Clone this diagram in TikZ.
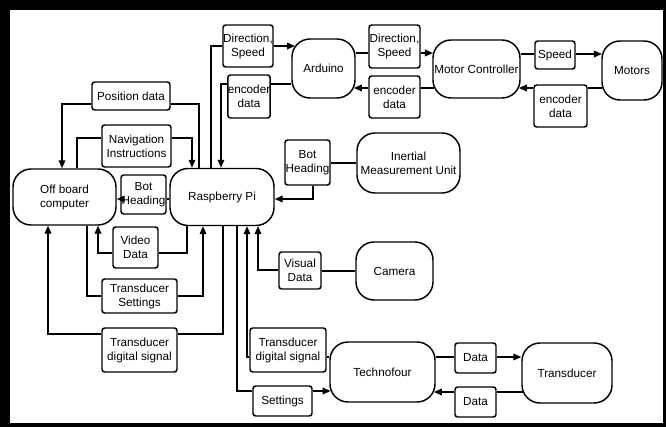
\documentclass[tikz,border=0pt]{standalone}
\usepackage{fontspec}
\setmainfont{Liberation Sans}
\usetikzlibrary{arrows.meta}
\begin{document}
\begin{tikzpicture}[x=0.75pt,y=-0.75pt,
  every node/.style={font=\fontsize{8.8}{10.5}\selectfont, align=center, inner sep=0pt},
  pill/.style n args={2}{draw, line width=1.1pt, rounded corners=13.5pt, minimum width=#1*0.75pt, minimum height=#2*0.75pt},
  lbl/.style n args={2}{draw, line width=1.1pt, rounded corners=2pt, minimum width=#1*0.75pt, minimum height=#2*0.75pt},
  conn/.style={line width=1pt},
  arr/.style={conn, -{Triangle[length=6pt,width=5pt]}}
]
% frame
\fill[black] (0,0) rectangle (666,427);
\fill[white] (10,10) rectangle (663,423);

% main blocks
\node[pill={103}{56}] (offb) at (64.5,197) {Off board\\computer};
\node[pill={104}{57}] (rpi) at (222,197) {Raspberry Pi};
\node[pill={63}{59}] (ard) at (323.5,68.5) {Arduino};
\node[pill={87}{58}] (mc) at (476.5,69) {Motor Controller};
\node[pill={60}{59}] (mot) at (632,70.5) {Motors};
\node[pill={103}{60}] (imu) at (408.5,163) {Inertial\\Measurement Unit};
\node[pill={77}{58}] (cam) at (394.5,271) {Camera};
\node[pill={105}{60}] (tf) at (382.5,372) {Technofour};
\node[pill={90}{60}] (tr) at (567,373) {Transducer};

% label boxes
\node[lbl={50}{42}] (ds1) at (248,46) {Direction,\\Speed};
\node[lbl={42}{43}] (en1) at (249,96.5) {encoder\\data};
\node[lbl={51}{43}] (ds2) at (394.5,46.5) {Direction,\\Speed};
\node[lbl={51}{42}] (en2) at (394.5,97) {encoder\\data};
\node[lbl={40}{28}] (spd) at (555,55) {Speed};
\node[lbl={53}{42}] (en3) at (560.5,106) {encoder\\data};
\node[lbl={78}{28}] (pos) at (131,96) {Position data};
\node[lbl={69}{42}] (nav) at (136.5,146) {Navigation\\Instructions};
\node[lbl={45}{39}] (bh1) at (143.5,194.5) {Bot\\Heading};
\node[lbl={45}{45}] (bh2) at (307.5,162.5) {Bot\\Heading};
\node[lbl={45}{41}] (vid) at (135.5,247.5) {Video\\Data};
\node[lbl={42}{37}] (vis) at (300,270.5) {Visual\\Data};
\node[lbl={75}{34}] (tset) at (139.5,296) {Transducer\\Settings};
\node[lbl={75}{44}] (tds1) at (139.5,350) {Transducer\\digital signal};
\node[lbl={76}{44}] (tds2) at (288,350) {Transducer\\digital signal};
\node[lbl={59}{30}] (set) at (282.5,401) {Settings};
\node[lbl={41}{30}] (d1) at (475.5,358) {Data};
\node[lbl={41}{30}] (d2) at (475.5,402) {Data};

% Raspberry Pi -> Arduino
\draw[conn] (211,0 |- rpi.north) |- (ds1.west);
\draw[arr, shorten >=-2.8pt] (ds1.east) -- (ds1.east -| ard.west);
% Arduino -> Raspberry Pi
\draw[conn] (ard.west |- 0,84) -- (en1.east |- 0,84);
\draw[arr] (en1.west |- 0,84) -| (221,0 |- rpi.north);
% Arduino -> Motor Controller
\draw[conn] (ard.east |- 0,53) -- (ds2.west |- 0,53);
\draw[arr, shorten >=-0.5pt] (ds2.east |- 0,53) -- (mc.west |- 0,53);
% Motor Controller -> Arduino
\draw[conn, shorten <=-1.4pt] (mc.west |- 0,88) -- (en2.east |- 0,88);
\draw[arr, shorten >=-1.4pt] (en2.west |- 0,88) -- (ard.east |- 0,88);
% Motor Controller -> Motors
\draw[conn] (mc.east |- 0,54) -- (spd.west |- 0,54);
\draw[arr, shorten >=-0.5pt] (spd.east |- 0,54) -- (mot.west |- 0,54);
% Motors -> Motor Controller
\draw[conn, shorten <=-0.7pt] (mot.west |- 0,88) -- (en3.east |- 0,88);
\draw[arr, shorten >=-1.4pt] (en3.west |- 0,88) -- (mc.east |- 0,88);
% IMU -> Raspberry Pi
\draw[conn] (imu.west) -- (bh2.east |- imu.west);
\draw[arr] (313,0 |- bh2.south) |- (rpi.east |- 0,199);
% Raspberry Pi -> Off board (position)
\draw[conn] (199,0 |- rpi.north) |- (pos.east |- 0,104);
\draw[arr] (pos.west |- 0,104) -| (62,0 |- offb.north);
% Off board -> Raspberry Pi (navigation)
\draw[conn] (77,0 |- offb.north) |- (nav.west |- 0,138);
\draw[arr] (nav.east |- 0,138) -| (192,0 |- rpi.north);
% Raspberry Pi -> Off board (bot heading)
\draw[conn] (rpi.west |- 0,199) -- (bh1.east |- 0,199);
\draw[arr] (bh1.west |- 0,199) -- (offb.east |- 0,199);
% Raspberry Pi -> Off board (video)
\draw[conn] (187,0 |- rpi.south) |- (vid.east |- 0,253);
\draw[arr] (vid.west |- 0,253) -| (98,0 |- offb.south);
% Off board -> Raspberry Pi (transducer settings)
\draw[conn] (87,0 |- offb.south) |- (tset.west);
\draw[arr] (tset.east) -| (203,0 |- rpi.south);
% Raspberry Pi -> Off board (transducer digital signal)
\draw[conn] (223,0 |- rpi.south) |- (tds1.east |- 0,334);
\draw[arr] (tds1.west |- 0,334) -| (48,0 |- offb.south);
% Technofour -> Raspberry Pi
\draw[conn] (tf.west |- 0,357) -- (tds2.east |- 0,357);
\draw[arr] (tds2.west |- 0,357) -| (247,0 |- rpi.south);
% Raspberry Pi -> Technofour
\draw[conn] (237,0 |- rpi.south) |- (set.west |- 0,391);
\draw[arr, shorten >=-1pt] (set.east |- 0,391) -- (tf.west |- 0,391);
% Camera -> Raspberry Pi
\draw[conn] (cam.west) -- (vis.east |- cam.west);
\draw[arr] (vis.west |- 0,270) -| (258,0 |- rpi.south);
% Technofour -> Transducer
\draw[conn] (tf.east |- 0,357) -- (d1.west |- 0,357);
\draw[arr] (d1.east |- 0,357) -- (tr.west |- 0,357);
% Transducer -> Technofour
\draw[conn, shorten <=-1pt] (tr.west |- 0,392) -- (d2.east |- 0,392);
\draw[arr, shorten >=-1.4pt] (d2.west |- 0,392) -- (tf.east |- 0,392);
\end{tikzpicture}
\end{document}
